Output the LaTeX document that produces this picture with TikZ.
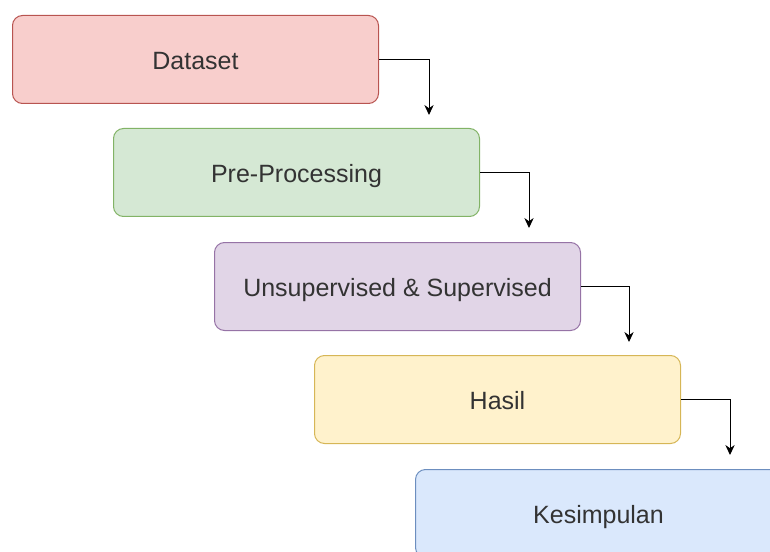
\documentclass[tikz,border=0pt]{standalone}
\usepackage{fontspec}
\setmainfont{Liberation Sans}
\usetikzlibrary{arrows.meta}
\definecolor{f1}{HTML}{F8CECC}\definecolor{s1}{HTML}{B85450}
\definecolor{f2}{HTML}{D5E8D4}\definecolor{s2}{HTML}{82B366}
\definecolor{f3}{HTML}{E1D5E7}\definecolor{s3}{HTML}{9673A6}
\definecolor{f4}{HTML}{FFF2CC}\definecolor{s4}{HTML}{D6B656}
\definecolor{f5}{HTML}{DAE8FC}\definecolor{s5}{HTML}{6C8EBF}
\definecolor{txt}{HTML}{333333}
\tikzset{
  stage/.style={rounded corners=7.5pt, line width=0.75pt, minimum width=274.5pt, minimum height=66pt,
    inner sep=0pt, anchor=north west, text=txt, text height=15.5pt, text depth=0pt,
    font=\fontsize{18.75}{22}\selectfont},
  conn/.style={line width=0.75pt, black, -{Stealth[length=7.5pt,width=7pt]}}
}
\begin{document}
\begin{tikzpicture}[x=0.75pt,y=-0.75pt]
\useasboundingbox (0,0) rectangle (770,552);
\begin{scope}
\clip (0,0) rectangle (770,552);
\node[stage, fill=f1, draw=s1] (d) at (12,15) {Dataset};
\node[stage, fill=f2, draw=s2] (p) at (113,128) {Pre-Processing};
\node[stage, fill=f3, draw=s3] (u) at (214,242) {Unsupervised \& Supervised};
\node[stage, fill=f4, draw=s4] (h) at (314,355) {Hasil};
\node[stage, fill=f5, draw=s5] (k) at (415,469) {Kesimpulan};
\end{scope}
\coordinate (e1) at (429,115);
\coordinate (e2) at (529,228);
\coordinate (e3) at (629,342);
\coordinate (e4) at (730,455);
\draw[conn] (d.east) -| (e1);
\draw[conn] (p.east) -| (e2);
\draw[conn] (u.east) -| (e3);
\draw[conn] (h.east) -| (e4);
\end{tikzpicture}
\end{document}
